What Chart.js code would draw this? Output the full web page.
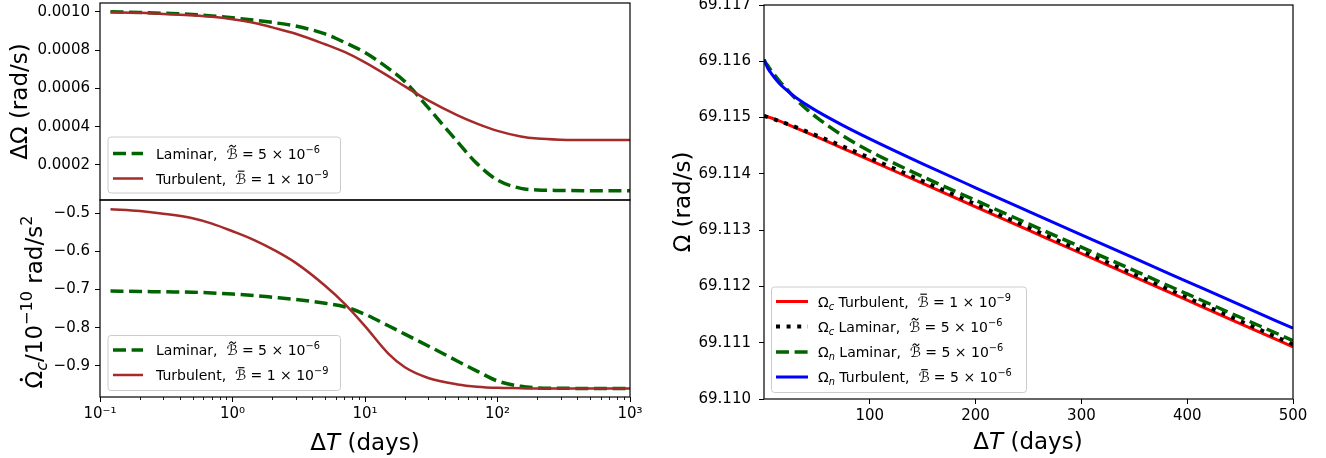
<!DOCTYPE html>
<html>
<head>
<meta charset="utf-8">
<script src="https://cdn.jsdelivr.net/npm/chart.js@4.4.1/dist/chart.umd.min.js"></script>
<style>
  html, body { margin: 0; padding: 0; background: #fff; }
  #fig { position: relative; width: 1326px; height: 458px; overflow: hidden; }
  #fig canvas { position: absolute; left: 0; top: 0; }
</style>
</head>
<body>
<div id="fig">
  <canvas id="dOmega" width="1326" height="458"></canvas>
  <canvas id="spinDown" width="1326" height="458"></canvas>
  <canvas id="omega" width="1326" height="458"></canvas>
</div>
<script>
const FONT = "'DejaVu Sans', sans-serif";
Chart.defaults.font.family = FONT;
Chart.defaults.font.size = 15;
Chart.defaults.color = '#000';

// --- left panels: log time axis (days) ---
const logDays = [0.12, 0.2, 0.3, 0.5, 0.7, 1, 1.5, 2, 3, 5, 7, 10, 15, 20, 30, 50, 70, 100, 150, 200, 300, 500, 700, 1000];
const dOmegaLaminar = [0.001000, 0.000996, 0.000992, 0.000986, 0.000978, 0.000968, 0.000955, 0.000944, 0.000925, 0.000884, 0.000840, 0.000787, 0.000704, 0.000635, 0.000499, 0.000320, 0.000207, 0.000121, 0.000078, 0.000070, 0.000067, 0.000066, 0.000066, 0.000066];
const dOmegaTurbulent = [0.000997, 0.000994, 0.000988, 0.000981, 0.000974, 0.000961, 0.000940, 0.000918, 0.000885, 0.000830, 0.000790, 0.000736, 0.000664, 0.000610, 0.000537, 0.000459, 0.000416, 0.000378, 0.000349, 0.000338, 0.000332, 0.000330, 0.000330, 0.000330];
const cDotLaminar = [-0.704, -0.705, -0.706, -0.707, -0.709, -0.712, -0.716, -0.720, -0.726, -0.736, -0.745, -0.765, -0.795, -0.817, -0.848, -0.888, -0.914, -0.940, -0.954, -0.958, -0.959, -0.960, -0.960, -0.960];
const cDotTurbulent = [-0.489, -0.494, -0.501, -0.513, -0.527, -0.547, -0.572, -0.594, -0.630, -0.690, -0.737, -0.796, -0.868, -0.904, -0.932, -0.949, -0.955, -0.958, -0.959, -0.960, -0.960, -0.960, -0.960, -0.960];

// --- right panel: linear time axis (days) ---
const linDays = [0, 1, 2, 3, 5, 7, 10, 15, 20, 30, 40, 50, 75, 100, 150, 200, 250, 300, 350, 400, 450, 500];
const omegaCTurbulent = [69.115030, 69.115026, 69.115020, 69.115014, 69.115004, 69.114992, 69.114971, 69.114936, 69.114898, 69.114819, 69.114738, 69.114656, 69.114450, 69.114244, 69.113829, 69.113415, 69.113000, 69.112585, 69.112171, 69.111756, 69.111341, 69.110927];
const omegaCLaminar = [69.115030, 69.115024, 69.115018, 69.115012, 69.114999, 69.114987, 69.114968, 69.114935, 69.114902, 69.114831, 69.114756, 69.114680, 69.114483, 69.114282, 69.113872, 69.113459, 69.113045, 69.112630, 69.112215, 69.111800, 69.111386, 69.110971];
const omegaNLaminar = [69.116030, 69.115992, 69.115962, 69.115937, 69.115883, 69.115827, 69.115755, 69.115639, 69.115537, 69.115330, 69.115154, 69.115000, 69.114671, 69.114403, 69.113950, 69.113529, 69.113113, 69.112697, 69.112281, 69.111866, 69.111452, 69.111037];
const omegaNTurbulent = [69.116030, 69.115987, 69.115938, 69.115899, 69.115834, 69.115782, 69.115706, 69.115596, 69.115508, 69.115356, 69.115230, 69.115115, 69.114858, 69.114622, 69.114178, 69.113753, 69.113334, 69.112917, 69.112501, 69.112086, 69.111671, 69.111257];

// tick values and labels
const dOmegaTicks = [0.0002, 0.0004, 0.0006, 0.0008, 0.0010];
const cDotTicks = [-0.9, -0.8, -0.7, -0.6, -0.5];
const logTicks = [0.1, 1, 10, 100, 1000];
const logTickLabels = ['10\u207B\u00B9', '10\u2070', '10\u00B9', '10\u00B2', '10\u00B3'];
const omegaTicks = [69.110, 69.111, 69.112, 69.113, 69.114, 69.115, 69.116, 69.117];
const linTicks = [100, 200, 300, 400, 500];

const GREEN = '#006400', BROWN = '#a52a2a';
const lamStyle = { borderColor: GREEN, borderWidth: 3.5, borderDash: [13, 5.6], borderCapStyle: 'butt' };
const turbStyle = { borderColor: BROWN, borderWidth: 2.5 };

function series(xs, ys, style) {
  return Object.assign({
    data: xs.map((x, i) => ({ x: x, y: ys[i] })),
    pointRadius: 0, fill: false, cubicInterpolationMode: 'monotone'
  }, style);
}

function noPad(s) { s.paddingTop = 0; s.paddingBottom = 0; s.paddingLeft = 0; s.paddingRight = 0; }

function yAxis(min, max, ticks, fmt, width, pad) {
  return {
    type: 'linear', min: min, max: max,
    afterBuildTicks: s => { s.ticks = ticks.map(v => ({ value: v })); },
    afterFit: s => { s.width = width; noPad(s); },
    ticks: { callback: v => fmt(v), padding: pad, autoSkip: false, color: '#000' },
    grid: { drawOnChartArea: false, tickLength: 5, color: '#000' },
    border: { display: false }
  };
}

function xAxis(type, min, max, ticks, labels, height) {
  return {
    type: type, min: min, max: max,
    afterBuildTicks: s => { s.ticks = ticks.map(v => ({ value: v })); },
    afterFit: s => { s.height = height; noPad(s); },
    ticks: { callback: (v, i) => labels[i], padding: 3, autoSkip: false, maxRotation: 0, color: '#000' },
    grid: { drawOnChartArea: false, tickLength: 5, color: '#000' },
    border: { display: false }
  };
}

// text made of pieces: normal, italic, sub/superscript and accented letters
function richText(ctx, parts, size, x, y, measureOnly) {
  let cx = x;
  for (const [txt, kind] of parts) {
    let s = size, dy = 0, style = '';
    if (kind === 'sub') { s = size * 0.7; dy = size * 0.22; style = 'italic '; }
    else if (kind === 'sup') { s = size * 0.7; dy = -size * 0.42; }
    else if (kind === 'it' || kind === 'tilde' || kind === 'bar') style = 'italic ';
    ctx.font = style + s + 'px ' + FONT;
    const w = ctx.measureText(txt).width;
    if (!measureOnly) {
      ctx.fillText(txt, cx, y + dy);
      if (kind === 'tilde' || kind === 'bar' || kind === 'dot') {
        const ax = cx + w * (kind === 'dot' ? 0.5 : 0.55);
        const ay = y - size * (kind === 'dot' ? 0.9 : 0.88);
        ctx.save();
        ctx.strokeStyle = ctx.fillStyle;
        ctx.lineWidth = Math.max(1, size * 0.08);
        ctx.beginPath();
        if (kind === 'bar') {
          ctx.moveTo(ax - w * 0.3, ay); ctx.lineTo(ax + w * 0.3, ay); ctx.stroke();
        } else if (kind === 'tilde') {
          ctx.moveTo(ax - w * 0.3, ay + 1);
          ctx.quadraticCurveTo(ax - w * 0.15, ay - 2, ax, ay);
          ctx.quadraticCurveTo(ax + w * 0.15, ay + 2, ax + w * 0.3, ay - 1);
          ctx.stroke();
        } else {
          ctx.arc(ax, ay, size * 0.07, 0, 2 * Math.PI); ctx.fill();
        }
        ctx.restore();
      }
    }
    cx += w;
  }
  return cx - x;
}

// frame, axis titles, minor log ticks and the legend box
function decorations(spec) {
  return {
    id: 'decorations',
    afterDraw(chart) {
      const ctx = chart.ctx, a = chart.chartArea;
      ctx.save();
      ctx.fillStyle = '#000';
      ctx.strokeStyle = '#000';
      ctx.textAlign = 'left';
      ctx.textBaseline = 'alphabetic';

      if (spec.minorLog) {
        const sx = chart.scales.x;
        ctx.lineWidth = 0.9;
        ctx.beginPath();
        for (let k = -1; k < 3; k++) {
          for (let m = 2; m < 10; m++) {
            const px = Math.round(sx.getPixelForValue(m * Math.pow(10, k))) + 0.5;
            ctx.moveTo(px, a.bottom); ctx.lineTo(px, a.bottom + 3);
          }
        }
        ctx.stroke();
      }

      ctx.lineWidth = 1.2;
      ctx.strokeRect(a.left, a.top, a.right - a.left, a.bottom - a.top);

      (spec.titles || []).forEach(t => {
        const w = richText(ctx, t.parts, 23, 0, 0, true);
        ctx.save();
        ctx.translate(t.x, t.y);
        if (t.rotate) ctx.rotate(-Math.PI / 2);
        richText(ctx, t.parts, 23, -w / 2, 0, false);
        ctx.restore();
      });

      const lg = spec.legend;
      if (lg) {
        const [x0, y0, x1, y1] = lg.box;
        ctx.beginPath();
        ctx.roundRect(x0 + 0.5, y0 + 0.5, x1 - x0, y1 - y0, 3);
        ctx.fillStyle = 'rgba(255,255,255,0.8)';
        ctx.fill();
        ctx.strokeStyle = '#cccccc';
        ctx.lineWidth = 1;
        ctx.stroke();
        lg.rows.forEach(r => {
          const ds = chart.data.datasets[r.ds];
          ctx.save();
          ctx.strokeStyle = ds.borderColor;
          ctx.lineWidth = ds.borderWidth;
          ctx.setLineDash(ds.borderDash || []);
          ctx.lineCap = 'butt';
          ctx.beginPath();
          ctx.moveTo(lg.sample[0], r.y); ctx.lineTo(lg.sample[1], r.y);
          ctx.stroke();
          ctx.restore();
          ctx.fillStyle = '#000';
          richText(ctx, r.parts, 14, lg.textX, r.y + 5, false);
        });
      }
      ctx.restore();
    }
  };
}

const deltaT = [['\u0394', 'n'], ['T', 'it'], [' (days)', 'n']];
const lamLabel = [['Laminar,  ', 'n'], ['\u212C', 'tilde'], [' = 5 \u00D7 10', 'n'], ['\u22126', 'sup']];
const turbLabel = [['Turbulent,  ', 'n'], ['\u212C', 'bar'], [' = 1 \u00D7 10', 'n'], ['\u22129', 'sup']];
const base = { responsive: false, animation: false, devicePixelRatio: 1, plugins: { legend: { display: false }, tooltip: { enabled: false } } };

// ΔΩ between the components
new Chart(document.getElementById('dOmega'), {
  type: 'line',
  data: { datasets: [
    series(logDays, dOmegaLaminar, Object.assign({ order: 2 }, lamStyle)),
    series(logDays, dOmegaTurbulent, Object.assign({ order: 1 }, turbStyle))
  ] },
  options: Object.assign({}, base, {
    layout: { padding: { left: 0, top: 3, right: 696, bottom: 258 } },
    scales: {
      x: { type: 'logarithmic', min: 0.1, max: 1000, display: false },
      y: yAxis(0.0000172, 0.0010454, dOmegaTicks, v => v.toFixed(4), 100, 5)
    }
  }),
  plugins: [decorations({
    titles: [{ parts: [['\u0394\u03A9 (rad/s)', 'n']], x: 26.5, y: 101.5, rotate: true }],
    legend: { box: [107.5, 136.5, 340, 192.5], sample: [113, 143], textX: 156,
      rows: [{ ds: 0, y: 153.5, parts: lamLabel }, { ds: 1, y: 178.5, parts: turbLabel }] }
  })]
});

// crust spin-down rate
new Chart(document.getElementById('spinDown'), {
  type: 'line',
  data: { datasets: [
    series(logDays, cDotLaminar, Object.assign({ order: 2 }, lamStyle)),
    series(logDays, cDotTurbulent, Object.assign({ order: 1 }, turbStyle))
  ] },
  options: Object.assign({}, base, {
    layout: { padding: { left: 0, top: 200, right: 696, bottom: 0 } },
    scales: {
      x: xAxis('logarithmic', 0.1, 1000, logTicks, logTickLabels, 61),
      y: yAxis(-0.982, -0.465, cDotTicks, v => v.toFixed(1).replace('-', '\u2212'), 100, 5)
    }
  }),
  plugins: [decorations({
    minorLog: true,
    titles: [
      { parts: [['\u03A9', 'dot'], ['c', 'sub'], ['/10', 'n'], ['\u221210', 'sup'], [' rad/s', 'n'], ['2', 'sup']], x: 42, y: 302, rotate: true },
      { parts: deltaT, x: 365, y: 450 }
    ],
    legend: { box: [107.5, 335, 340, 390], sample: [113, 143], textX: 156,
      rows: [{ ds: 0, y: 350, parts: lamLabel }, { ds: 1, y: 375, parts: turbLabel }] }
  })]
});

// angular velocities of crust and superfluid
new Chart(document.getElementById('omega'), {
  type: 'line',
  data: { datasets: [
    series(linDays, omegaCTurbulent, { borderColor: '#ff0000', borderWidth: 3, order: 4 }),
    series(linDays, omegaCLaminar, { borderColor: '#000000', borderWidth: 4, borderDash: [4, 6.6], borderCapStyle: 'butt', order: 3 }),
    series(linDays, omegaNLaminar, Object.assign({ order: 2 }, lamStyle)),
    series(linDays, omegaNTurbulent, { borderColor: '#0000ff', borderWidth: 3, order: 1 })
  ] },
  options: Object.assign({}, base, {
    layout: { padding: { left: 660, top: 5, right: 33, bottom: 0 } },
    scales: {
      x: xAxis('linear', 0, 500, linTicks, linTicks.map(String), 59),
      y: yAxis(69.110, 69.117, omegaTicks, v => v.toFixed(3), 104, 8)
    }
  }),
  plugins: [decorations({
    titles: [
      { parts: [['\u03A9 (rad/s)', 'n']], x: 690, y: 202, rotate: true },
      { parts: deltaT, x: 1028, y: 449 }
    ],
    legend: { box: [771, 286.5, 1026, 392], sample: [776, 808], textX: 818,
      rows: [
        { ds: 0, y: 301.5, parts: [['\u03A9', 'n'], ['c', 'sub'], [' Turbulent,  ', 'n'], ['\u212C', 'bar'], [' = 1 \u00D7 10', 'n'], ['\u22129', 'sup']] },
        { ds: 1, y: 326.5, parts: [['\u03A9', 'n'], ['c', 'sub'], [' Laminar,  ', 'n'], ['\u212C', 'tilde'], [' = 5 \u00D7 10', 'n'], ['\u22126', 'sup']] },
        { ds: 2, y: 352, parts: [['\u03A9', 'n'], ['n', 'sub'], [' Laminar,  ', 'n'], ['\u212C', 'tilde'], [' = 5 \u00D7 10', 'n'], ['\u22126', 'sup']] },
        { ds: 3, y: 377, parts: [['\u03A9', 'n'], ['n', 'sub'], [' Turbulent,  ', 'n'], ['\u212C', 'bar'], [' = 5 \u00D7 10', 'n'], ['\u22126', 'sup']] }
      ] }
  })]
});
</script>
</body>
</html>
